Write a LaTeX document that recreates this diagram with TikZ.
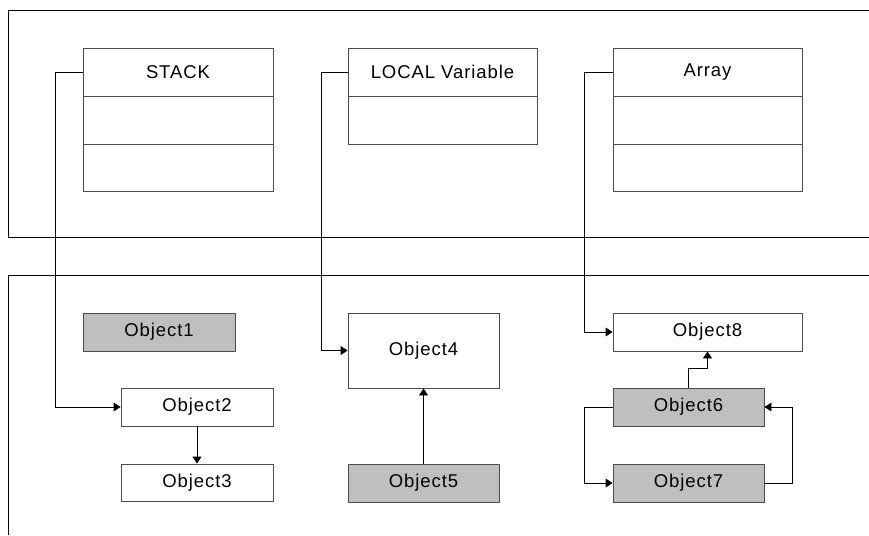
\documentclass[tikz,border=0pt]{standalone}
\usepackage{fontspec}
\setmainfont{Liberation Sans}[LetterSpace=5]
\usetikzlibrary{arrows.meta}
\begin{document}
\begin{tikzpicture}[x=1pt,y=-1pt,
  box/.style={draw=black!70,line width=0.9pt,rectangle,inner sep=0pt,font=\fontsize{18.5}{20}\selectfont},
  gbox/.style={box,fill=black!25},
  arr/.style={line width=0.9pt,-{Triangle[length=7pt,width=9pt]}},
  ln/.style={line width=0.9pt},
  frame/.style={line width=0.9pt,black}]
\useasboundingbox (0,0) rectangle (869,535);
% frames
\draw[frame] (869,10) -- (8,10) -- (8,237) -- (869,237);
\draw[frame] (869,275) -- (8,275) -- (8,535);
% STACK
\node[box,minimum width=190pt,minimum height=48pt] (stack) at (178,72) {STACK};
\node[box,minimum width=190pt,minimum height=48pt] (stack2) at (178,120) {};
\node[box,minimum width=190pt,minimum height=47pt] (stack3) at (178,167.5) {};
% LOCAL Variable
\node[box,minimum width=189pt,minimum height=48pt] (local) at (442.5,72) {LOCAL Variable};
\node[box,minimum width=189pt,minimum height=48pt] (local2) at (442.5,120) {};
% Array
\node[box,minimum width=189pt,minimum height=48pt] (array) at (707.5,72) {Array};
\node[box,minimum width=189pt,minimum height=48pt] (array2) at (707.5,120) {};
\node[box,minimum width=189pt,minimum height=47pt] (array3) at (707.5,167.5) {};
% objects
\node[gbox,minimum width=152pt,minimum height=38pt] (o1) at (159,332) {Object1};
\node[box,minimum width=152pt,minimum height=38pt] (o2) at (197,407) {Object2};
\node[box,minimum width=152pt,minimum height=37pt] (o3) at (197,482.5) {Object3};
\node[box,minimum width=151pt,minimum height=75pt] (o4) at (423.5,350.5) {Object4};
\node[gbox,minimum width=151pt,minimum height=38pt] (o5) at (423.5,483) {Object5};
\node[box,minimum width=189pt,minimum height=38pt] (o8) at (707.5,332) {Object8};
\node[gbox,minimum width=151pt,minimum height=38pt] (o6) at (688.5,407) {Object6};
\node[gbox,minimum width=151pt,minimum height=38pt] (o7) at (688.5,483) {Object7};
% connectors
\coordinate (c1) at (55,72);
\coordinate (c2) at (321,72);
\coordinate (c3) at (584,72);
\draw[arr] (stack.west) -- (c1) |- (o2.west);
\draw[arr] (local.west) -- (c2) |- (o4.west);
\draw[arr] (array.west) -- (c3) |- (o8.west);
\draw[arr] (o2.south) -- (o3.north);
\draw[arr] (o5.north) -- (o4.south);
\draw[arr] (o6.north) -- ++(0,-19) -| (o8.south);
\coordinate (l6) at (584,407);
\coordinate (r7) at (792,483);
\draw[arr] (o6.west) -- (l6) |- (o7.west);
\draw[arr] (o7.east) -- (r7) |- (o6.east);
\end{tikzpicture}
\end{document}
